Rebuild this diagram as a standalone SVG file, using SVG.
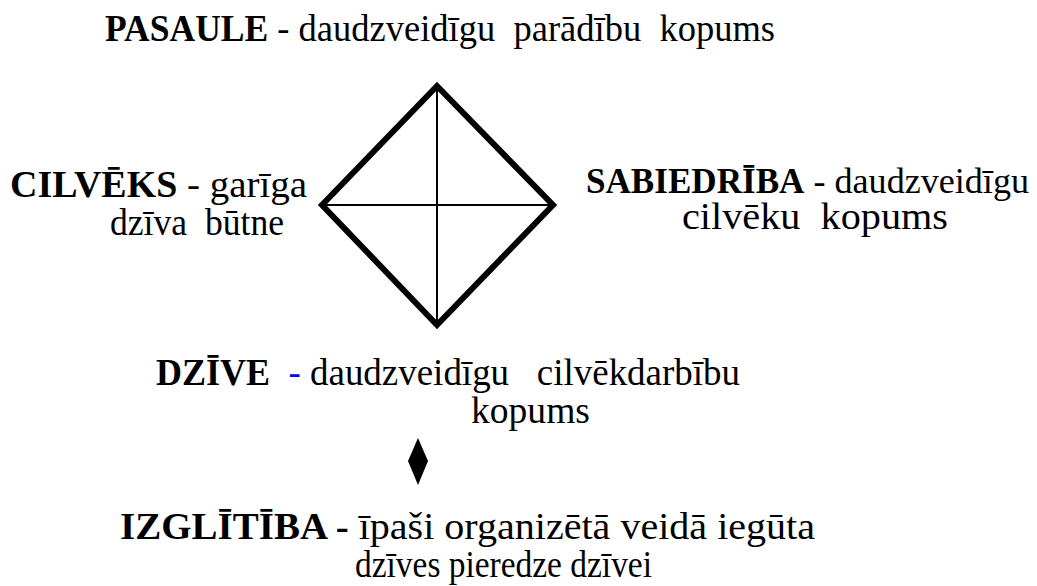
<svg xmlns="http://www.w3.org/2000/svg" width="1037" height="586" viewBox="0 0 1037 586">
<style>
text{font-family:'Liberation Serif','Times New Roman',serif;font-size:38px;fill:#000;white-space:pre}
.b{font-weight:bold;font-size:37px}
.s{font-size:36px}
.s .b{font-size:35px}
.thick{fill:none;stroke:#000;stroke-width:6;stroke-linejoin:miter}
.thin{stroke:#000;stroke-width:2}
</style>
<rect width="1037" height="586" fill="#fff"/>
<g id="pasaule"><text x="105" y="41" textLength="670" lengthAdjust="spacingAndGlyphs"><tspan class="b">PASAULE</tspan> - daudzveidīgu  parādību  kopums</text></g>
<g id="cilveks"><text x="10" y="197" textLength="297" lengthAdjust="spacingAndGlyphs"><tspan class="b">CILVĒKS</tspan> - garīga</text><text x="110" y="235" textLength="174" lengthAdjust="spacingAndGlyphs">dzīva  būtne</text></g>
<g id="sabiedriba"><text class="s" x="586" y="193" textLength="443" lengthAdjust="spacingAndGlyphs"><tspan class="b">SABIEDRĪBA</tspan> - daudzveidīgu</text><text x="682" y="229" textLength="266" lengthAdjust="spacingAndGlyphs">cilvēku  kopums</text></g>
<g id="diamond"><polygon class="thick" points="437,86 553,205 437,325 322,205"/></g>
<g id="connectors"><line class="thin" x1="437" y1="86" x2="437" y2="325"/><line class="thin" x1="322" y1="205" x2="553" y2="205"/></g>
<g id="dzive"><text x="156" y="385" textLength="584" lengthAdjust="spacingAndGlyphs"><tspan class="b">DZĪVE</tspan>  <tspan fill="#0000ff">-</tspan> daudzveidīgu   cilvēkdarbību</text><text x="471" y="423" textLength="119" lengthAdjust="spacingAndGlyphs">kopums</text></g>
<g id="small-diamond"><polygon points="418,438 428,461 418,485 408,461" fill="#000"/></g>
<g id="izglitiba"><text x="120" y="539" textLength="695" lengthAdjust="spacingAndGlyphs"><tspan class="b">IZGLĪTĪBA -</tspan> īpaši organizētā veidā iegūta</text><text x="355" y="577" textLength="297" lengthAdjust="spacingAndGlyphs">dzīves pieredze dzīvei</text></g>
</svg>
